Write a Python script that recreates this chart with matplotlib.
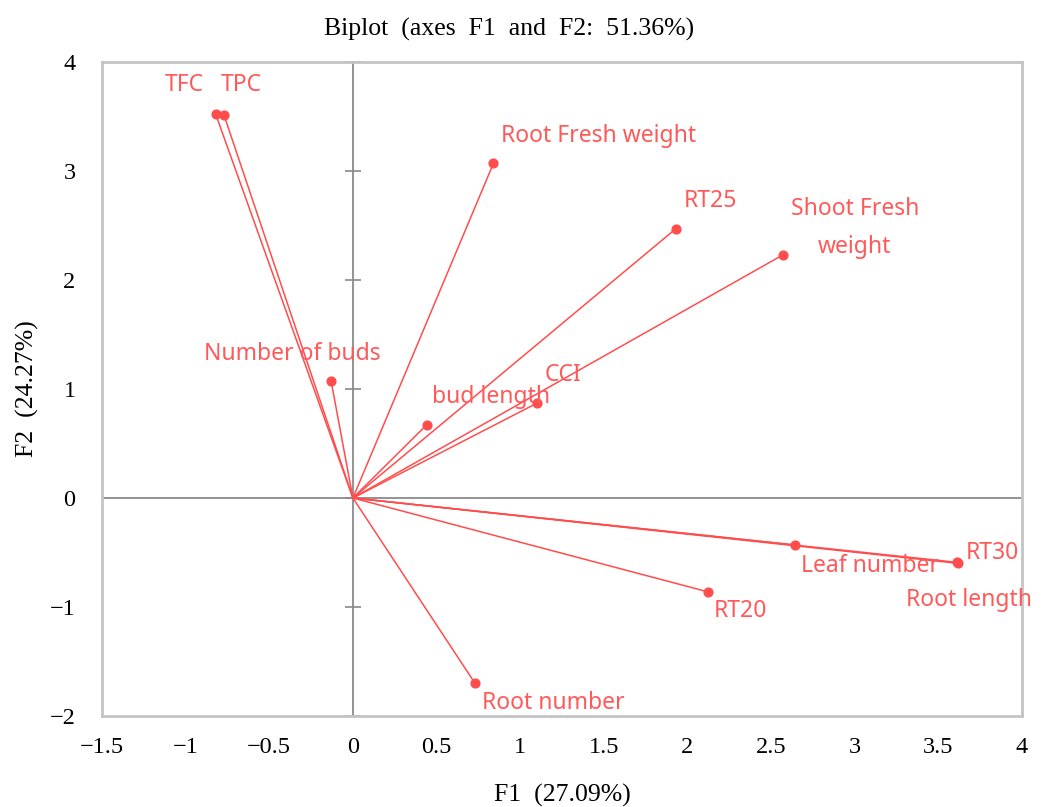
import matplotlib.pyplot as plt
import numpy as np

# variable loadings (F1, F2)
names = ['TFC', 'TPC', 'Number of buds', 'bud length', 'CCI', 'Root Fresh weight',
         'RT25', 'Shoot Fresh\nweight', 'Leaf number', 'RT30', 'Root length',
         'RT20', 'Root number']
f1 = [-0.82, -0.77, -0.13, 0.44, 1.10, 0.84, 1.93, 2.57, 2.64, 3.62, 3.61, 2.12, 0.73]
f2 = [3.52, 3.51, 1.07, 0.67, 0.87, 3.07, 2.47, 2.23, -0.43, -0.60, -0.59, -0.86, -1.70]

# label offsets in pixels (dx, dy) relative to each point
offsets = [(-31, 29), (17, 30), (-39, 27), (65, 28), (26, 28), (105, 27),
           (35, 28), (72, 27), (75, -21), (34, 10), (12, -38), (33, -19), (78, -20)]

xticks = [-1.5, -1, -0.5, 0, 0.5, 1, 1.5, 2, 2.5, 3, 3.5, 4]
yticks = [-2, -1, 0, 1, 2, 3, 4]

red = '#ff4d4d'
txt_red = '#ff5959'
grey = '#8a8a8a'
serif = ['Liberation Serif', 'DejaVu Serif']

fig = plt.figure(figsize=(10.51, 8.07), dpi=100)
ax = fig.add_axes([102 / 1051, 91 / 807, 920 / 1051, 654 / 807])
ax.set_xlim(-1.5, 4)
ax.set_ylim(-2, 4)

ax.axhline(0, color=grey, lw=1.3, zorder=1)
ax.axvline(0, color=grey, lw=1.3, zorder=1)
ax.plot(np.zeros(len(yticks)), yticks, ls='none', marker='_', ms=12,
        mew=1.2, color=grey, zorder=1, clip_on=False)

for x, y in zip(f1, f2):
    ax.plot([0, x], [0, y], color=red, lw=1.1, zorder=2)
ax.scatter(f1, f2, s=40, color=red, zorder=3)

for name, x, y, (dx, dy) in zip(names, f1, f2, offsets):
    ax.annotate(name, (x, y), xytext=(dx * 0.72, dy * 0.72), textcoords='offset points',
                ha='center', va='center', color=txt_red, fontsize=16.5,
                family='Noto Sans', linespacing=1.75, zorder=4)

for s in ax.spines.values():
    s.set_color('#c4c4c4')
    s.set_linewidth(2)

ax.set_xticks(xticks)
ax.set_xticklabels([str(t).replace('-', '\u2212') for t in xticks])
ax.set_yticks(yticks)
ax.set_yticklabels([str(t).replace('-', '\u2212') for t in yticks])
ax.tick_params(length=0, labelsize=17.5)
ax.tick_params(axis='x', pad=15)
ax.tick_params(axis='y', pad=19)
for lab in ax.get_xticklabels() + ax.get_yticklabels():
    lab.set_family(serif)

ax.set_title('Biplot  (axes  F1  and  F2:  51.36%)', family=serif, fontsize=18.5,
             x=0.443, pad=19)
ax.set_xlabel('F1  (27.09%)', family=serif, fontsize=18.5, labelpad=19)
ax.set_ylabel('F2  (24.27%)', family=serif, fontsize=18.5, labelpad=8)

fig.savefig('out.png', dpi=100)
